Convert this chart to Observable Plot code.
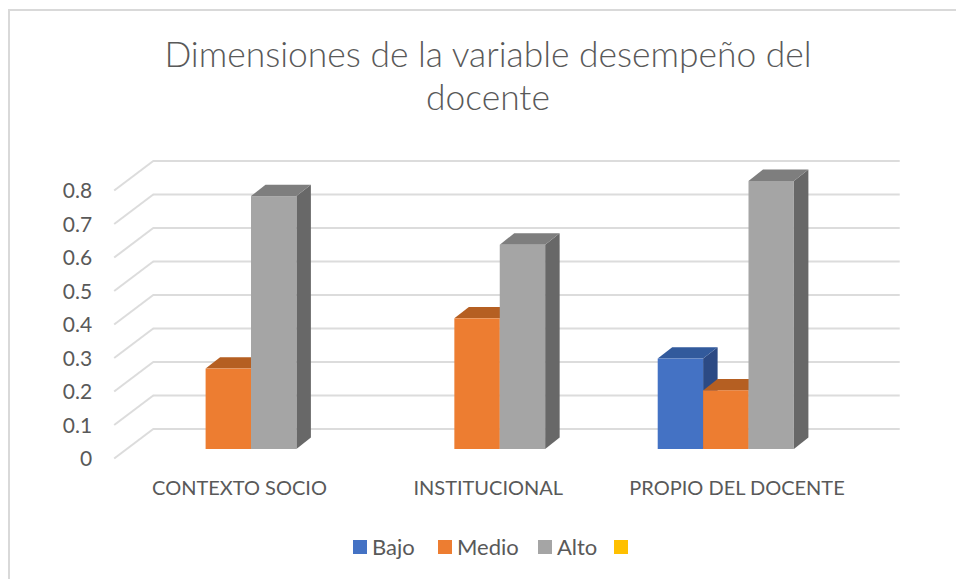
<!DOCTYPE html>
<html>
<head>
<meta charset="utf-8">
<script src="https://cdn.jsdelivr.net/npm/d3@7"></script>
<script src="https://cdn.jsdelivr.net/npm/@observablehq/plot@0.6"></script>
<style>
  html, body { margin: 0; padding: 0; background: #fff; overflow: hidden; }
  body { width: 956px; height: 579px; position: relative; font-family: Lato, "Open Sans", sans-serif; color: #595959; }
  #frame { position: absolute; left: 8px; top: 9px; width: 948px; height: 570px; border-left: 2px solid #d9d9d9; border-top: 2px solid #d9d9d9; box-sizing: border-box; }
  #title { position: absolute; left: 0; width: 976px; top: 32px; text-align: center; font-size: 35.4px; line-height: 43px; font-weight: 300; }
  #chart { position: absolute; left: 0; top: 130px; }
  #chart svg { display: block; }
  #legend { position: absolute; top: 534px; left: 0; height: 26px; font-size: 22px; line-height: 26px; }
  #legend span { position: absolute; white-space: nowrap; }
  #legend i { position: absolute; width: 14px; height: 14px; top: 6px; }
</style>
</head>
<body>
<div id="frame"></div>
<div id="title">Dimensiones de la variable desempeño del<br>docente</div>
<div id="chart"></div>
<div id="legend"></div>
<script>
const categories = ["CONTEXTO SOCIO", "INSTITUCIONAL", "PROPIO DEL DOCENTE"];
const seriesNames = ["Bajo", "Medio", "Alto", ""];
const bajo = [null, null, 0.27];
const medio = [0.24, 0.39, 0.175];
const alto = [0.755, 0.61, 0.80];
const vacio = [null, null, null];
const ticks = [0, 0.1, 0.2, 0.3, 0.4, 0.5, 0.6, 0.7, 0.8];

const frontColors = ["#4472c4", "#ed7d31", "#a5a5a5", "#ffc000"];
const topColors = ["#325a9c", "#b55f22", "#7e7e7e", "#bf9000"];
const sideColors = ["#2c4a84", "#9e5220", "#686868", "#a67c00"];

// 3D projection expressed in data units
const barW = 0.1825, depthX = 0.0583, depthY = 0.034;
const wallFrontX = -0.552, wallBackX = -0.395, wallEndX = 2.608;
const wallFrontY = -0.027, wallBackY = 0.061;

const allSeries = [bajo, medio, alto, vacio];
const bars = (values, s) => values.flatMap((v, g) => v == null ? [] : [{
  id: `${s}-${g}`, v,
  x0: g + (s - 2) * barW,
  x1: g + (s - 1) * barW
}]);

const barMarks = allSeries.flatMap((values, s) => {
  const b = bars(values, s);
  const side = b.flatMap(d => [
    {id: d.id, x: d.x1, y1: 0, y2: d.v},
    {id: d.id, x: d.x1 + depthX, y1: depthY, y2: d.v + depthY}
  ]);
  const top = b.flatMap(d => [
    {id: d.id, y: d.v, x1: d.x0, x2: d.x1},
    {id: d.id, y: d.v + depthY, x1: d.x0 + depthX, x2: d.x1 + depthX}
  ]);
  return [
    Plot.areaY(side, {x: "x", y1: "y1", y2: "y2", z: "id", fill: sideColors[s]}),
    Plot.areaX(top, {y: "y", x1: "x1", x2: "x2", z: "id", fill: topColors[s]}),
    Plot.rect(b, {x1: "x0", x2: "x1", y1: () => 0, y2: "v", fill: frontColors[s]})
  ];
});

const chart = Plot.plot({
  width: 956,
  height: 400,
  margin: 0,
  x: {domain: [0, 2], range: [251, 748.5], axis: null},
  y: {domain: [0, 0.8], range: [319, 51], axis: null},
  style: {fontFamily: "Lato, 'Open Sans', sans-serif", background: "transparent", overflow: "visible"},
  marks: [
    Plot.ruleY(ticks, {y: d => d + wallBackY, x1: () => wallBackX, x2: () => wallEndX, stroke: "#dcdcdc", strokeWidth: 2}),
    Plot.link(ticks, {x1: () => wallFrontX, y1: d => d + wallFrontY, x2: () => wallBackX, y2: d => d + wallBackY, stroke: "#dcdcdc", strokeWidth: 2}),
    ...barMarks,
    Plot.text(ticks, {x: () => wallFrontX, y: d => d + wallFrontY, text: d => String(d), textAnchor: "end", dx: -22, dy: 1, fontSize: 21, fill: "#595959"}),
    Plot.text(categories, {x: (d, i) => i, y: () => 0, text: d => d, dx: -12, dy: 39, fontSize: 20, fill: "#595959"})
  ]
});
document.getElementById("chart").appendChild(chart);

// legend
const legendPos = [[353, 372], [438, 457], [538, 557], [614, 633]];
const legend = document.getElementById("legend");
seriesNames.forEach((name, i) => {
  const sw = document.createElement("i");
  sw.style.left = legendPos[i][0] + "px";
  sw.style.background = frontColors[i];
  legend.appendChild(sw);
  if (name) {
    const t = document.createElement("span");
    t.style.left = legendPos[i][1] + "px";
    t.textContent = name;
    legend.appendChild(t);
  }
});
</script>
</body>
</html>
